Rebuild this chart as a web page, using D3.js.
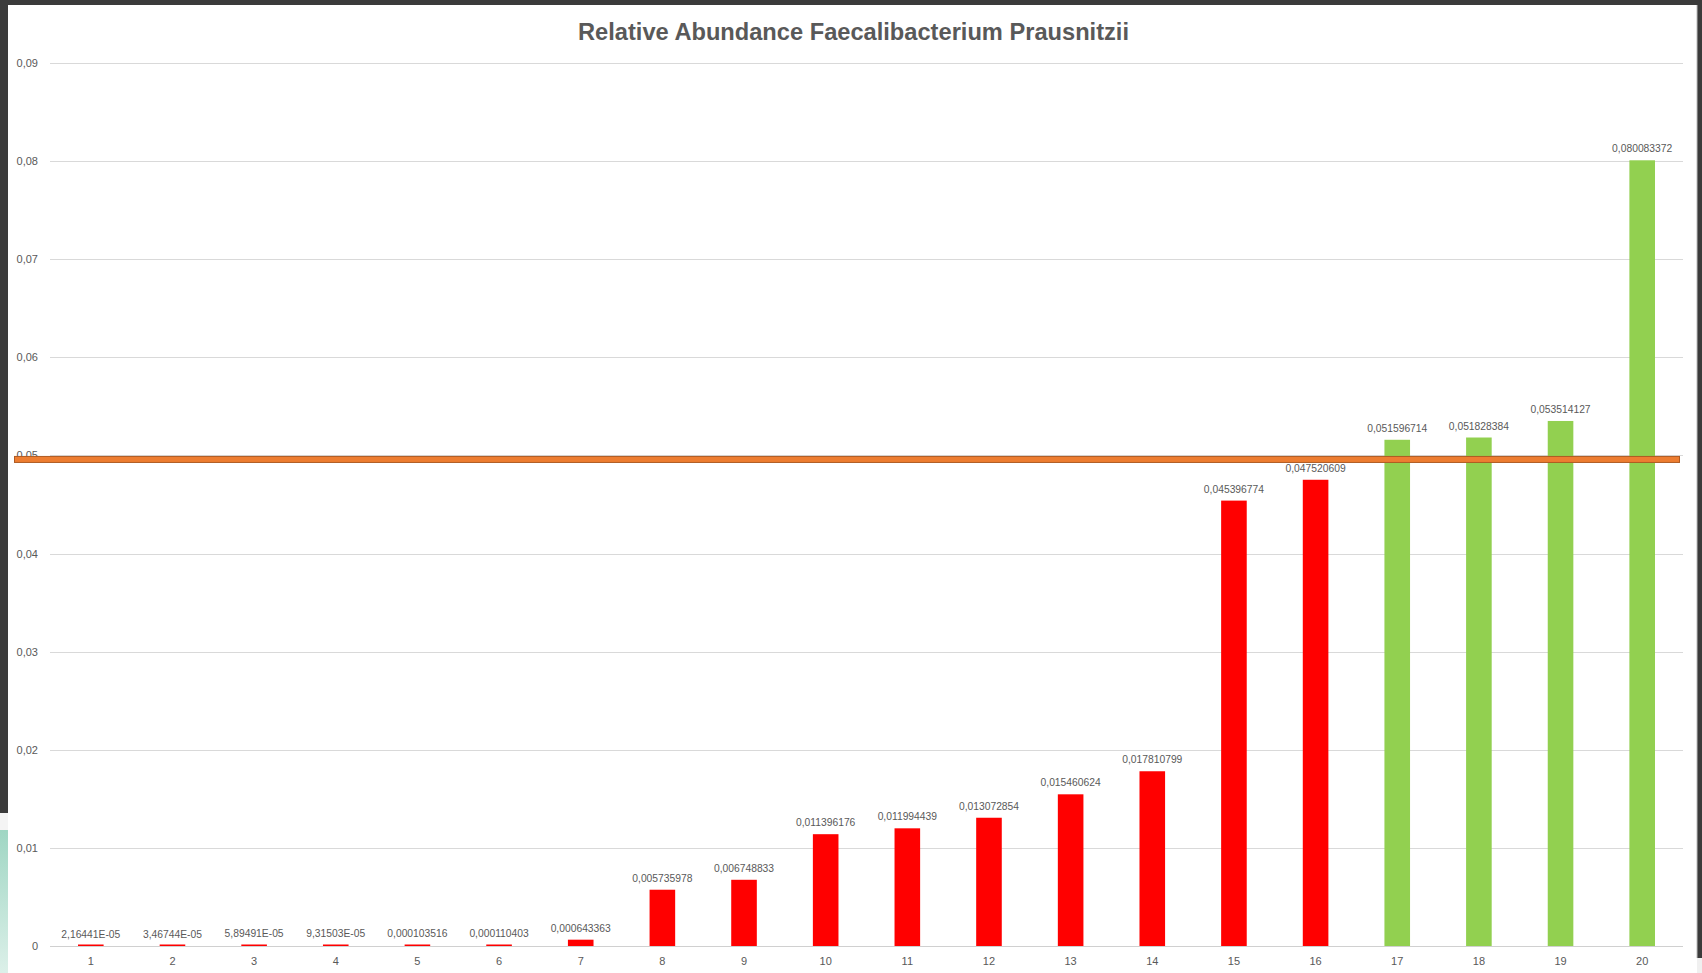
<!DOCTYPE html>
<html>
<head>
<meta charset="utf-8">
<script src="https://cdn.jsdelivr.net/npm/d3@7"></script>
<style>
   body { margin: 0; background: #3b3b3b; overflow: hidden; }
   text { font-family: "Liberation Sans", Arial, sans-serif; }
</style>
</head>
<body>
<script>
// samples 1..20
var categories = ["1", "2", "3", "4", "5", "6", "7", "8", "9", "10",
   "11", "12", "13", "14", "15", "16", "17", "18", "19", "20"];

var abundance = [2.16441E-05, 3.46744E-05, 5.89491E-05, 9.31503E-05, 0.000103516,
   0.000110403, 0.000643363, 0.005735978, 0.006748833, 0.011396176,
   0.011994439, 0.013072854, 0.015460624, 0.017810799, 0.045396774,
   0.047520609, 0.051596714, 0.051828384, 0.053514127, 0.080083372];

var yTicks = [0, 0.01, 0.02, 0.03, 0.04, 0.05, 0.06, 0.07, 0.08, 0.09];

var threshold = 0.05;
var titleText = "Relative Abundance  Faecalibacterium Prausnitzii";

var W = 1702, H = 973;

var svg = d3.select("body")
   .append("svg")
   .attr("width", W)
   .attr("height", H);

// slide background bits round the chart
var grad = svg.append("defs").append("linearGradient")
   .attr("id", "teal")
   .attr("x1", 0).attr("y1", 0).attr("x2", 0).attr("y2", 1);
grad.append("stop").attr("offset", "0%").attr("stop-color", "#9fd6c3");
grad.append("stop").attr("offset", "100%").attr("stop-color", "#dcf0e9");

svg.append("rect").attr("x", 0).attr("y", 0).attr("width", W).attr("height", H).style("fill", "#3b3b3b");
svg.append("rect").attr("x", 0).attr("y", 813).attr("width", 8).attr("height", 17).style("fill", "#f4f4f4");
svg.append("rect").attr("x", 0).attr("y", 830).attr("width", 8).attr("height", H - 830).style("fill", "url(#teal)");
svg.append("rect").attr("x", 1697).attr("y", 958).attr("width", 5).attr("height", 15).style("fill", "#f0f0f0");
svg.append("rect").attr("x", 8).attr("y", 5).attr("width", 1689).attr("height", H - 5).style("fill", "white");
svg.append("line").attr("x1", 1697).attr("x2", 1697).attr("y1", 5).attr("y2", 958)
   .style("stroke", "#bcbcbc").style("stroke-width", 1);

var x = d3.scaleBand()
   .domain(categories)
   .range([50, 1683])
   .paddingInner(0.6865)
   .paddingOuter(0.343);

var y = d3.scaleLinear()
   .domain([0, 0.09])
   .range([946, 63]);

function fmtTick(v) {
   if (v === 0) return "0";
   return v.toFixed(2).replace(".", ",");
}

function fmtLabel(v) {
   if (v < 1e-4) {
      var parts = v.toExponential(5).split("e");
      var ex = parseInt(parts[1], 10);
      var sign = ex < 0 ? "-" : "+";
      ex = Math.abs(ex);
      return parts[0].replace(".", ",") + "E" + sign + (ex < 10 ? "0" + ex : ex);
   }
   return String(+v.toFixed(9)).replace(".", ",");
}

// gridlines
svg.append("g")
   .selectAll("line")
   .data(yTicks)
   .enter()
   .append("line")
   .attr("x1", 50)
   .attr("x2", 1683)
   .attr("y1", function(d) { return Math.round(y(d)) + 0.5 })
   .attr("y2", function(d) { return Math.round(y(d)) + 0.5 })
   .style("stroke", function(d) { return d === 0 ? "#d0d0d0" : "#d9d9d9" })
   .style("stroke-width", 1);

// y axis labels
var yAxis = d3.axisLeft(y).tickValues(yTicks).tickFormat(fmtTick).tickSize(0).tickPadding(0);
var yg = svg.append("g")
   .attr("transform", "translate(38,0)")
   .call(yAxis);
yg.select(".domain").remove();
yg.selectAll("text")
   .style("font-size", "11px")
   .style("fill", "#595959")
   .style("font-family", "'Liberation Sans', Arial, sans-serif");

// x axis labels
var xAxis = d3.axisBottom(x).tickSize(0).tickPadding(0);
var xg = svg.append("g")
   .attr("transform", "translate(0,957)")
   .call(xAxis);
xg.select(".domain").remove();
xg.selectAll("text")
   .style("font-size", "11px")
   .style("fill", "#595959")
   .style("font-family", "'Liberation Sans', Arial, sans-serif");

// bars
var bars = svg.append("g")
   .selectAll("rect")
   .data(abundance)
   .enter()
   .append("rect")
   .attr("x", function(d, i) { return x(categories[i]) })
   .attr("width", x.bandwidth())
   .attr("y", function(d) { return Math.min(y(d), y(0) - 1.5) })
   .attr("height", function(d) { return Math.max(1.5, y(0) - y(d)) })
   .style("fill", function(d) { return d >= threshold ? "#92d050" : "#ff0000" });

// data labels
svg.append("g")
   .selectAll("text")
   .data(abundance)
   .enter()
   .append("text")
   .attr("x", function(d, i) { return x(categories[i]) + x.bandwidth() / 2 })
   .attr("y", function(d) { return y(d) - 8 })
   .attr("text-anchor", "middle")
   .style("font-size", "10.3px")
   .style("fill", "#595959")
   .text(function(d) { return fmtLabel(d) });

// threshold marker
svg.append("rect")
   .attr("x", 14.5)
   .attr("y", y(threshold) + 1)
   .attr("width", 1665)
   .attr("height", 6)
   .style("fill", "#ed7d31")
   .style("stroke", "#ae5a21")
   .style("stroke-width", 1);

// title
svg.append("text")
   .attr("x", 853.5)
   .attr("y", 40)
   .attr("text-anchor", "middle")
   .attr("textLength", 551)
   .attr("lengthAdjust", "spacingAndGlyphs")
   .style("font-size", "24px")
   .style("font-weight", "bold")
   .style("fill", "#595959")
   .text(titleText);
</script>
</body>
</html>
